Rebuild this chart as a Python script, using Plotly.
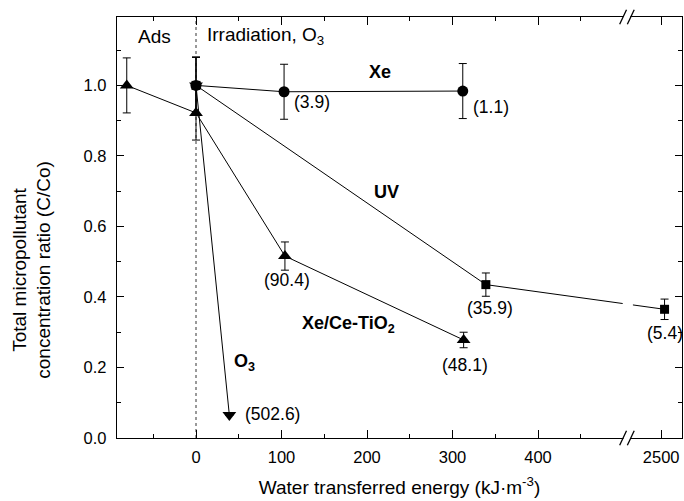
import plotly.graph_objects as go

# ---------------- data ----------------
xe_ce_x = [-81, 0, 104, 313]
xe_ce_y = [1.0, 0.922, 0.516, 0.278]
xe_ce_err = [0.078, 0.077, 0.04, 0.022]

xe_x = [0, 103, 312]
xe_y = [1.0, 0.982, 0.984]
xe_err = [0.08, 0.078, 0.078]

uv_x = [0, 339, 2505]
uv_y = [1.0, 0.435, 0.365]
uv_err = [0.08, 0.033, 0.029]

o3_x = [0, 39]
o3_y = [1.0, 0.065]
o3_err = [0.08, 0.0]

major_ticks = [0, 100, 200, 300, 400, 2500]
minor_ticks = [-50, 50, 150, 250, 350, 450]
y_ticks = [0.0, 0.2, 0.4, 0.6, 0.8, 1.0]
y_minor = [0.1, 0.3, 0.5, 0.7, 0.9, 1.1]

# energy labels: (text, x, y, anchor)
point_labels = [
    ("(3.9)", 112, 0.953, "left"),
    ("(1.1)", 322, 0.939, "left"),
    ("(90.4)", 106, 0.448, "center"),
    ("(48.1)", 315, 0.207, "center"),
    ("(35.9)", 344, 0.369, "center"),
    ("(5.4)", 2505, 0.298, "center"),
    ("(502.6)", 55, 0.068, "left"),
]
series_labels = [
    ("<b>Xe</b>", 215, 1.038),
    ("<b>UV</b>", 223, 0.698),
    ("<b>Xe/Ce-TiO<sub>2</sub></b>", 178, 0.321),
    ("<b>O<sub>3</sub></b>", 57, 0.213),
]

# ---------------- broken x axis mapping ----------------
X_BREAK = 2400          # values above this are in the second segment
SEG2_AT = 544           # axis position of 2500
SEG2_SCALE = 0.8
BREAK_POS = 504         # axis position of the break marks


def xmap(v):
    return v if v < X_BREAK else SEG2_AT + (v - 2500) * SEG2_SCALE


def xm(lst):
    return [xmap(v) for v in lst]


FONT = "Liberation Sans, Arial, sans-serif"
fig = go.Figure()


def add_series(x, y, err, symbol, size):
    fig.add_trace(go.Scatter(
        x=xm(x), y=y, mode="lines+markers",
        line=dict(color="black", width=1),
        marker=dict(symbol=symbol, size=size, color="black"),
        error_y=dict(type="data", array=err, visible=True,
                     color="black", thickness=1, width=4),
        showlegend=False, cliponaxis=False,
    ))


add_series(uv_x, uv_y, uv_err, "square", 9)
add_series(xe_ce_x, xe_ce_y, xe_ce_err, "triangle-up", 12)
add_series(o3_x, o3_y, o3_err, "triangle-down", 12)
add_series(xe_x, xe_y, xe_err, "circle", 11)

shapes = []
# dotted line at x=0
shapes.append(dict(type="line", xref="x", yref="paper", x0=0, x1=0, y0=0, y1=1,
                   line=dict(color="black", width=0.8, dash="dot"), layer="below"))
# gap in the UV line at the break
shapes.append(dict(type="rect", xref="x", yref="y", x0=BREAK_POS - 5, x1=BREAK_POS + 7,
                   y0=0.33, y1=0.42, fillcolor="white", line=dict(width=0), layer="above"))
# break marks on bottom and top axes
for yp in (0, 1):
    shapes.append(dict(type="rect", xref="x", yref="paper", x0=BREAK_POS - 4, x1=BREAK_POS + 4,
                       y0=yp - 0.006, y1=yp + 0.006, fillcolor="white", line=dict(width=0),
                       layer="above"))
    for dx in (-4.5, 4.5):
        shapes.append(dict(type="line", xref="x", yref="paper",
                           x0=BREAK_POS + dx - 4, x1=BREAK_POS + dx + 4,
                           y0=yp - 0.017, y1=yp + 0.017,
                           line=dict(color="black", width=1.3), layer="above"))

annotations = []
for t, x, y, a in point_labels:
    annotations.append(dict(x=xmap(x), y=y, text=t, showarrow=False, xanchor=a,
                            yanchor="middle", font=dict(size=17.5, color="black", family=FONT)))
for t, x, y in series_labels:
    annotations.append(dict(x=x, y=y, text=t, showarrow=False, xanchor="center",
                            yanchor="middle", font=dict(size=18, color="black", family=FONT)))
annotations.append(dict(x=-48, y=1.140, text="Ads", showarrow=False, xanchor="center",
                        yanchor="middle", font=dict(size=19, color="black", family=FONT)))
annotations.append(dict(x=10.5, y=1.140, text="Irradiation, O<sub>3</sub>", showarrow=False,
                        xanchor="left", yanchor="middle",
                        font=dict(size=19, color="black", family=FONT)))
# y title (two lines)
annotations.append(dict(xref="paper", yref="paper", x=-0.152, y=0.40,
                        text="Total micropollutant<br>concentration ratio (C/Co)",
                        textangle=-90, showarrow=False, xanchor="center", yanchor="middle",
                        font=dict(size=19, color="black", family=FONT)))

fig.update_layout(
    width=684, height=501,
    margin=dict(l=117, r=2, t=17, b=63),
    paper_bgcolor="white", plot_bgcolor="white",
    font=dict(family=FONT, size=16, color="black"),
    shapes=shapes, annotations=annotations,
    xaxis=dict(
        range=[-92.4, 568.4], tickmode="array",
        tickvals=xm(major_ticks), ticktext=[str(v) for v in major_ticks],
        ticks="inside", ticklen=8, tickwidth=1, tickcolor="black",
        minor=dict(tickmode="array", tickvals=xm(minor_ticks), ticks="inside",
                   ticklen=4, tickcolor="black", tickwidth=1),
        showline=True, linecolor="black", linewidth=1.3, mirror="ticks",
        showgrid=False, zeroline=False, tickfont=dict(size=16.5, family=FONT),
        ticklabelstandoff=4,
        title=dict(text="Water transferred energy (kJ·m<sup>-3</sup>)",
                   font=dict(size=19, family=FONT), standoff=15),
    ),
    yaxis=dict(
        range=[0, 1.194], tickmode="array", tickvals=y_ticks,
        ticktext=[f"{v:.1f}" for v in y_ticks],
        ticks="inside", ticklen=7, tickwidth=1, tickcolor="black",
        minor=dict(tickmode="array", tickvals=y_minor,
                   ticks="inside", ticklen=4, tickcolor="black", tickwidth=1),
        showline=True, linecolor="black", linewidth=1.3, mirror="ticks",
        showgrid=False, zeroline=False, tickfont=dict(size=16.5, family=FONT),
        ticklabelstandoff=6,
    ),
)

fig.write_html("out.html")
